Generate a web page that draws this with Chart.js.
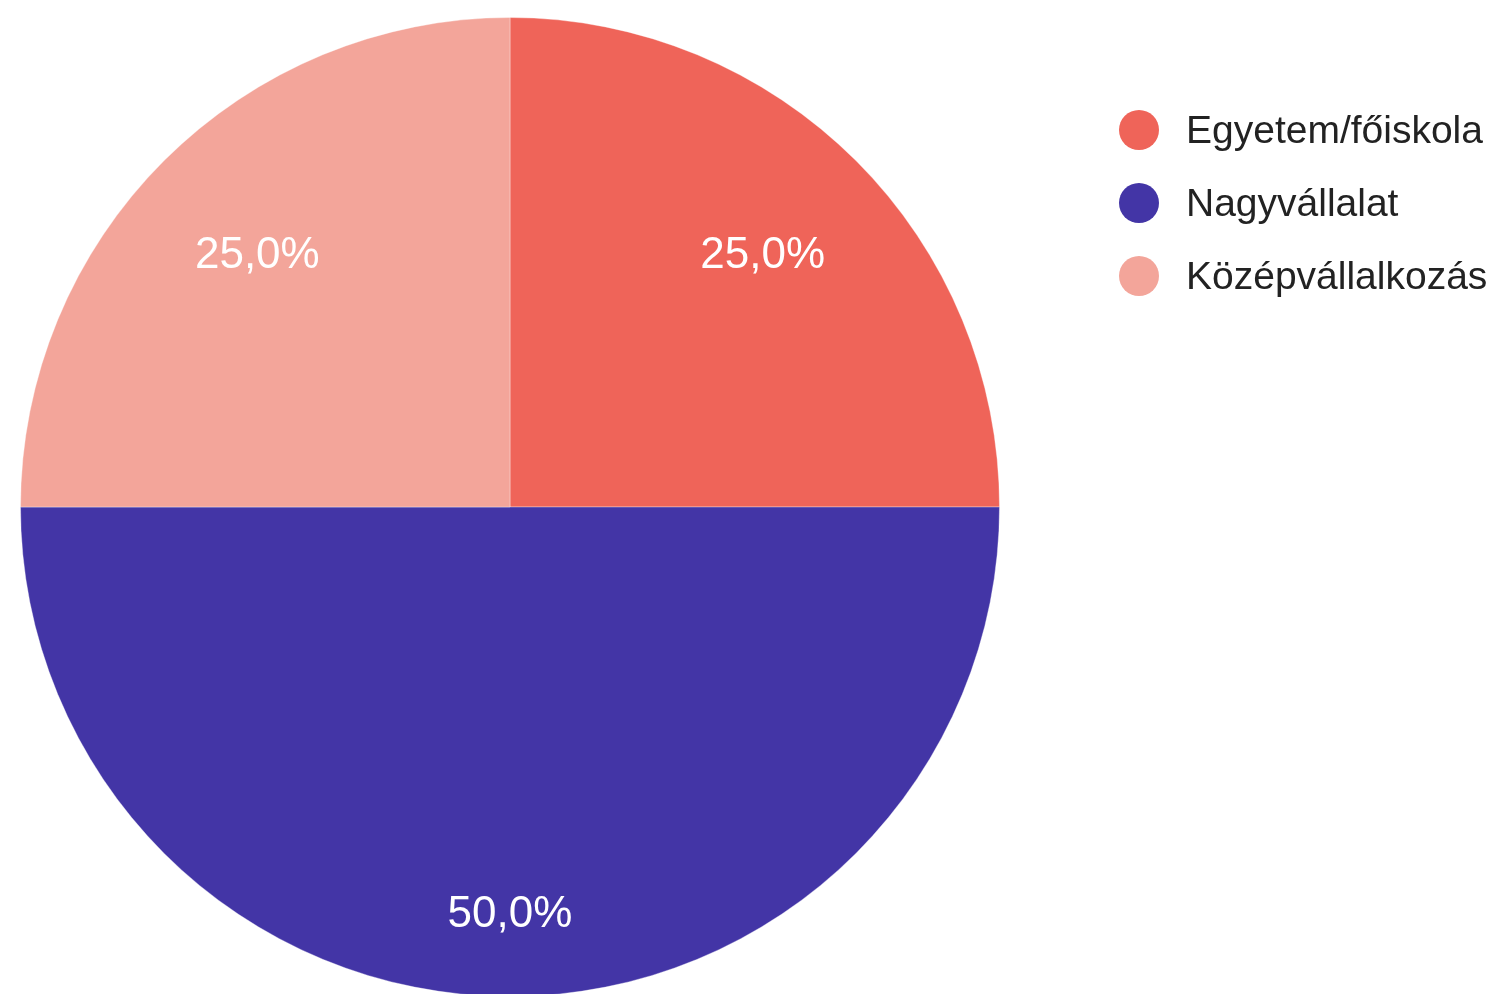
<!DOCTYPE html>
<html>
<head>
<meta charset="utf-8">
<script src="https://cdn.jsdelivr.net/npm/chart.js@4/dist/chart.umd.min.js"></script>
<style>
  html, body { margin: 0; padding: 0; background: #fff; overflow: hidden; }
  #pie { display: block; }
</style>
</head>
<body>
<canvas id="pie" width="1494" height="1010" style="width:1494px;height:1010px"></canvas>
<script>
// categories and shares (percent)
const labels = ['Egyetem/főiskola', 'Nagyvállalat', 'Középvállalkozás'];
const shares = [25, 50, 25];
const colors = ['#EF6459', '#4335A6', '#F3A59A'];

// percent label on each slice, Google-charts style (comma decimal)
const sliceLabels = {
    id: 'sliceLabels',
    afterDatasetsDraw(chart) {
        const { ctx } = chart;
        const arcs = chart.getDatasetMeta(0).data;
        const total = shares.reduce((a, b) => a + b, 0);
        ctx.save();
        ctx.fillStyle = '#ffffff';
        ctx.font = '44px "Liberation Sans", Arial, sans-serif';
        ctx.textAlign = 'center';
        ctx.textBaseline = 'middle';
        arcs.forEach((arc, i) => {
            const p = arc.getProps(['x', 'y', 'startAngle', 'endAngle', 'outerRadius'], true);
            const mid = (p.startAngle + p.endAngle) / 2;
            const f = (p.endAngle - p.startAngle) > Math.PI * 0.9 ? 0.83 : 0.73;
            const x = p.x + Math.cos(mid) * p.outerRadius * f;
            const y = p.y + Math.sin(mid) * p.outerRadius * f;
            const txt = (shares[i] / total * 100).toFixed(1).replace('.', ',') + '%';
            ctx.fillText(txt, x, y + 2);
        });
        ctx.restore();
    }
};

// legend on the right with round markers
const sideLegend = {
    id: 'sideLegend',
    afterDraw(chart) {
        const { ctx } = chart;
        ctx.save();
        ctx.font = '39px "Liberation Sans", Arial, sans-serif';
        ctx.textBaseline = 'middle';
        ctx.textAlign = 'left';
        labels.forEach((name, i) => {
            const y = 130 + i * 73;
            ctx.beginPath();
            ctx.arc(1139, y, 20, 0, Math.PI * 2);
            ctx.fillStyle = colors[i];
            ctx.fill();
            ctx.fillStyle = '#222222';
            ctx.fillText(name, 1186, y + 2);
        });
        ctx.restore();
    }
};

new Chart(document.getElementById('pie'), {
    type: 'pie',
    data: {
        labels,
        datasets: [{
            data: shares,
            backgroundColor: colors,
            borderColor: 'rgba(255,255,255,0.35)',
            borderWidth: 1
        }]
    },
    options: {
        responsive: false,
        animation: false,
        layout: { padding: { left: 20, top: 17, right: 494, bottom: 13 } },
        plugins: {
            legend: { display: false },
            tooltip: { enabled: false }
        }
    },
    plugins: [sliceLabels, sideLegend]
});
</script>
</body>
</html>
